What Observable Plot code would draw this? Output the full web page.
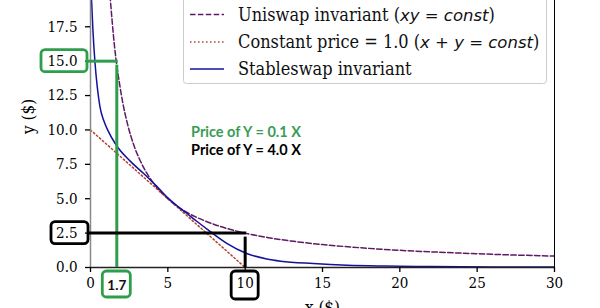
<!DOCTYPE html>
<html>
<head>
<meta charset="utf-8">
<script src="https://cdn.jsdelivr.net/npm/d3@7"></script>
<script src="https://cdn.jsdelivr.net/npm/@observablehq/plot@0.6"></script>
<style>
  html, body { margin: 0; padding: 0; background: white; }
</style>
</head>
<body>
<div id="chart"></div>
<script>
// ---- data ----
const uniX = [1.26,1.4,1.55,1.7,1.9,2.1,2.4,2.8,3.2,3.7,4.3,5,5.8,6.8,8,9,10,11.5,13,15,17.5,20,23,26.5,30];
const uniY = [19.8,17.9,16.1,14.7,13.2,11.9,10.4,8.9,7.8,6.75,5.8,5.0,4.3,3.68,3.13,2.78,2.5,2.17,1.92,1.67,1.43,1.25,1.09,0.94,0.83];

const constX = [0, 10];
const constY = [10, 0];

const stableX = [0.07,0.15,0.29,0.45,0.61,0.85,1.13,1.69,2.55,3.42,4.06,4.71,5.0,5.58,6.2,6.87,7.73,8.81,10.1,11.4,12.3,14.4,16.6,19.0,22.0,26.0,30.0];
const stableY = [19.41,17.4,14.9,13.0,11.7,10.7,9.95,8.85,7.75,6.85,6.15,5.4,5.06,4.5,3.96,3.36,2.62,1.76,1.02,0.62,0.46,0.29,0.17,0.11,0.07,0.04,0.03];

const xTicks = [0, 5, 10, 15, 20, 25, 30];
const yTicks = [0, 2.5, 5, 7.5, 10, 12.5, 15, 17.5];

const greenPoint = {x: 1.7, y: 15};   // Price of Y = 0.1 X
const blackPoint = {x: 10, y: 2.5};   // Price of Y = 4.0 X

const notes = [
  {x: 6.5, y: 9.8, text: "Price of Y = 0.1 X", color: "#3a9d55"},
  {x: 6.5, y: 8.55, text: "Price of Y = 4.0 X", color: "#000000"}
];

const seriesNames = ["Uniswap invariant", "Constant price = 1.0", "Stableswap invariant"];

// ---- styles ----
const serif = "'DejaVu Serif Condensed', 'DejaVu Serif', serif";
const GREEN = "#2f9e4b";
const C_UNI = "#5e1a62";
const C_CONST = "#b5412e";
const C_STABLE = "#12129a";

const toPts = (xs, ys) => xs.map((x, i) => ({x, y: ys[i]}));
const uni = toPts(uniX, uniY);
const cst = toPts(constX, constY);
const stb = toPts(stableX, stableY);

const plot = Plot.plot({
  width: 600,
  height: 308,
  marginLeft: 90,
  marginRight: 46,
  marginTop: 0,
  marginBottom: 41,
  x: {domain: [0, 30]},
  y: {domain: [0, 19.41]},
  style: {fontFamily: serif, fontSize: "15px", background: "white", color: "black", overflow: "visible"},
  marks: [
    Plot.line(uni, {x: "x", y: "y", stroke: C_UNI, strokeWidth: 1.5, strokeDasharray: "5.5,2.4", curve: "monotone-x", clip: true}),
    Plot.line(cst, {x: "x", y: "y", stroke: C_CONST, strokeWidth: 1.5, strokeDasharray: "1.5,2.5", clip: true}),
    Plot.line(stb, {x: "x", y: "y", stroke: C_STABLE, strokeWidth: 1.5, curve: "monotone-x", clip: true}),
    // spines
    Plot.ruleX([0], {stroke: "#8a8a8a", strokeWidth: 1.5}),
    Plot.ruleY([0], {stroke: "#222", strokeWidth: 1.5}),
    Plot.ruleX([30], {stroke: "#000", strokeWidth: 1}),
    Plot.axisX({ticks: xTicks, tickSize: 5, tickPadding: 5, label: null, fontSize: 15, strokeWidth: 1.3}),
    Plot.axisY({ticks: yTicks, tickFormat: d3.format(".1f"), tickSize: 5, tickPadding: 8, label: null, fontSize: 15, strokeWidth: 1.3}),
    // annotation guide lines
    Plot.ruleY([greenPoint], {y: "y", x1: 0, x2: "x", stroke: GREEN, strokeWidth: 3, insetLeft: -3, insetRight: -1.5}),
    Plot.ruleX([greenPoint], {x: "x", y1: 0, y2: "y", stroke: GREEN, strokeWidth: 3, insetBottom: -4}),
    Plot.ruleY([blackPoint], {y: "y", x1: 0, x2: "x", stroke: "black", strokeWidth: 3, insetLeft: -2, insetRight: -1.5}),
    Plot.ruleX([blackPoint], {x: "x", y1: 0, y2: "y", stroke: "black", strokeWidth: 3, insetBottom: -4}),
    Plot.text([greenPoint], {x: "x", y: 0, text: d => String(d.x), dy: 18, fontFamily: "Lato, 'Open Sans', sans-serif", fontWeight: "bold", fontSize: 13.5, fill: "#111"}),
    Plot.text(notes, {x: "x", y: "y", text: "text", fill: "color", textAnchor: "start", fontFamily: "Lato, 'Open Sans', sans-serif", fontWeight: "bold", fontSize: 14.5}),
    // axis labels
    Plot.text(["y ($)"], {frameAnchor: "left", dx: -62, rotate: -90, fontSize: 17}),
    Plot.text(["x ($)"], {frameAnchor: "bottom", dy: 33, lineAnchor: "top", fontSize: 17})
  ]
});

document.getElementById("chart").appendChild(plot);

const svg = d3.select(plot);
const sx = plot.scale("x"), sy = plot.scale("y");
const X = v => sx.apply(v), Y = v => sy.apply(v);

// boxes around tick labels
const boxes = [
  {x: X(0) - 3 - 46, y: Y(greenPoint.y) - 11, w: 46, h: 22, c: GREEN},
  {x: X(0) - 2 - 37, y: Y(blackPoint.y) - 11, w: 37, h: 22, c: "black"},
  {x: X(greenPoint.x) - 14, y: Y(0) + 4, w: 28, h: 26, c: GREEN},
  {x: X(blackPoint.x) - 13.5, y: Y(0) + 4, w: 27, h: 28, c: "black"}
];
svg.append("g").selectAll("rect").data(boxes).join("rect")
  .attr("x", d => d.x).attr("y", d => d.y).attr("width", d => d.w).attr("height", d => d.h)
  .attr("rx", 4).attr("fill", "none").attr("stroke", d => d.c).attr("stroke-width", 2.8);

// legend
const lg = svg.append("g").attr("font-family", serif).attr("font-size", 18).attr("text-anchor", "start");
lg.append("rect").attr("x", 183.5).attr("y", -10).attr("width", 363).attr("height", 93.5)
  .attr("rx", 3).attr("fill", "white").attr("fill-opacity", 0.85).attr("stroke", "#cccccc").attr("stroke-width", 1);
const rows = [
  {y: 14.5, stroke: C_UNI, dash: "5.5,2.4"},
  {y: 42, stroke: C_CONST, dash: "1.5,2.5"},
  {y: 69, stroke: C_STABLE, dash: null}
];
rows.forEach(r => {
  lg.append("line").attr("x1", 190).attr("x2", 224).attr("y1", r.y).attr("y2", r.y)
    .attr("stroke", r.stroke).attr("stroke-width", 1.5).attr("stroke-dasharray", r.dash);
});
const sans = "'DejaVu Sans', sans-serif";
function legendText(y, parts) {
  const t = lg.append("text").attr("x", 238).attr("y", y).attr("dy", "0.35em").attr("fill", "#111").attr("text-anchor", "start");
  parts.forEach(p => {
    const s = t.append("tspan").text(p.t);
    if (p.m) s.attr("font-family", sans).attr("font-style", p.i ? "italic" : "normal").attr("font-size", 16.5);
  });
}
legendText(14.5, [{t: seriesNames[0] + " ("}, {t: "xy", m: 1, i: 1}, {t: " = ", m: 1}, {t: "const", m: 1, i: 1}, {t: ")"}]);
legendText(42, [{t: seriesNames[1] + " ("}, {t: "x", m: 1, i: 1}, {t: " + ", m: 1}, {t: "y", m: 1, i: 1}, {t: " = ", m: 1}, {t: "const", m: 1, i: 1}, {t: ")"}]);
legendText(69, [{t: seriesNames[2]}]);
</script>
</body>
</html>
